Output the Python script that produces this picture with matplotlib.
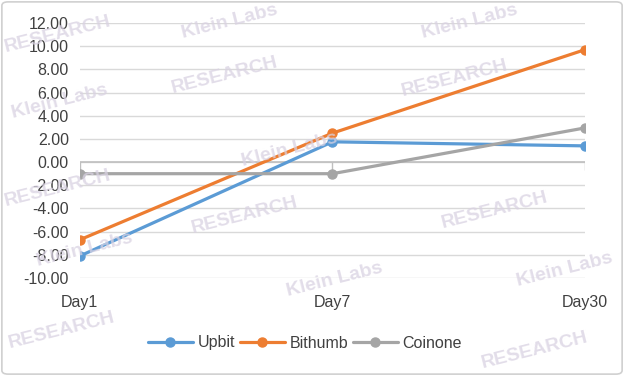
import matplotlib
matplotlib.use("Agg")
import matplotlib.pyplot as plt
from matplotlib.patches import FancyBboxPatch

categories = ["Day1", "Day7", "Day30"]
upbit = [-8.1, 1.75, 1.4]
bithumb = [-6.7, 2.5, 9.7]
coinone = [-1.0, -1.0, 2.95]
yticks = [12, 10, 8, 6, 4, 2, 0, -2, -4, -6, -8, -10]

series = [("Upbit", upbit, "#5B9BD5"),
          ("Bithumb", bithumb, "#ED7D31"),
          ("Coinone", coinone, "#A5A5A5")]

plt.rcParams['font.family'] = ['Liberation Sans', 'DejaVu Sans']

fig = plt.figure(figsize=(6.24, 3.76), dpi=100)
ax = fig.add_axes([0.128, 0.2606, 0.9375 - 0.128, 0.9388 - 0.2606])

# border
fig.patches.append(FancyBboxPatch((0.003, 0.005), 0.994, 0.99, boxstyle="round,pad=0,rounding_size=0.01",
                                  transform=fig.transFigure, fill=False, edgecolor="#d0d0d0", linewidth=1.2))

# watermarks
wm = [("Klein Labs", 230, 22), ("Klein Labs", 470, 22), ("RESEARCH", 225, 75), ("RESEARCH", 455, 78),
      ("Klein Labs", 60, 102), ("Klein Labs", 290, 150), ("RESEARCH", 58, 188), ("RESEARCH", 245, 215),
      ("RESEARCH", 495, 210), ("Klein Labs", 85, 250), ("Klein Labs", 335, 280), ("Klein Labs", 565, 270),
      ("RESEARCH", 62, 330), ("RESEARCH", 535, 350), ("RESEARCH", 58, 34)]
for t, x, y in wm:
    fig.text(x / 624, 1 - y / 376, t, color="#d9d2e2", alpha=0.75, fontsize=14, fontweight="bold",
             rotation=14, ha="center", va="center", zorder=0)

x = list(range(len(categories)))
for name, vals, col in series:
    ax.plot(x, vals, color=col, linewidth=2.3, marker="o", markersize=6.5, label=name,
            solid_capstyle="round", zorder=3)

ax.set_xlim(0, len(categories) - 1)
ax.set_ylim(-10, 12)
ax.set_yticks(yticks)
ax.set_yticklabels([f"{v:.2f}" for v in yticks], fontsize=11.5, color="#404040")
ax.grid(axis="y", color="#d9d9d9", linewidth=1)
ax.set_axisbelow(True)
ax.axhline(0, color="#bfbfbf", linewidth=1.2, zorder=1)
ax.vlines(x, -0.65, 0, color="#bfbfbf", linewidth=1, zorder=1)
ax.set_xticks(x)
ax.set_xticklabels(categories, fontsize=11.5, color="#404040")
ax.tick_params(axis="both", length=0)
ax.tick_params(axis="x", pad=12)
ax.tick_params(axis="y", pad=8)
for s in ax.spines.values():
    s.set_visible(False)
ax.patch.set_alpha(0)

leg = fig.legend(loc="center", bbox_to_anchor=(305 / 624, 1 - 343 / 376), ncol=3, frameon=False,
                 fontsize=11.5, handlelength=2.8, columnspacing=0.3, handletextpad=0.3,
                 labelcolor="#404040")

fig.savefig("out.png", dpi=100)
